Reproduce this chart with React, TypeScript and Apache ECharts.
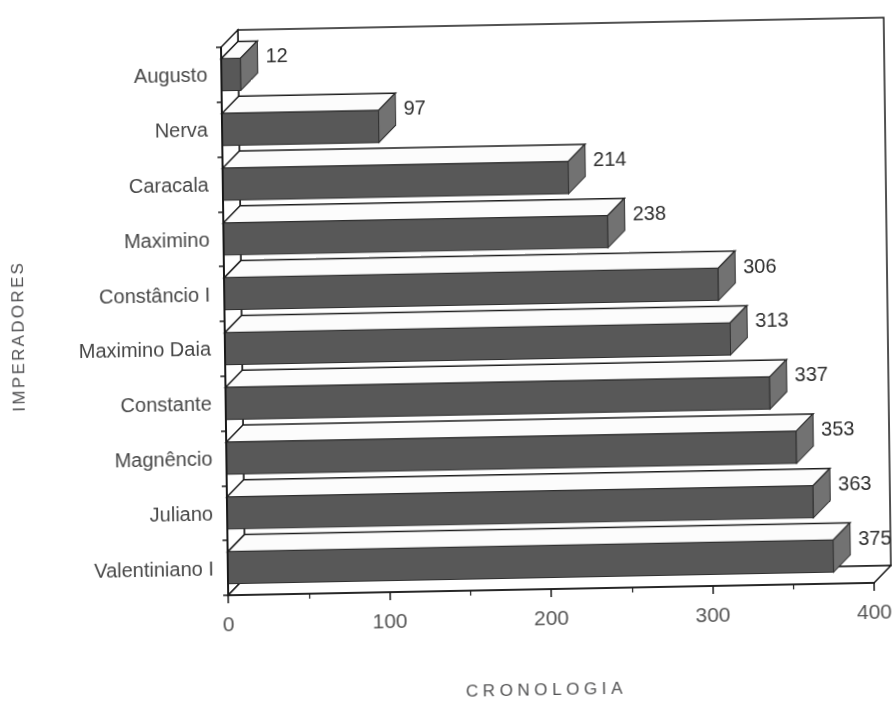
import React, { useEffect, useRef } from "react";
import * as echarts from "echarts";

// Emperors (top to bottom) and the year each one is dated to
const emperors = [
  "Augusto",
  "Nerva",
  "Caracala",
  "Maximino",
  "Constâncio I",
  "Maximino Daia",
  "Constante",
  "Magnêncio",
  "Juliano",
  "Valentiniano I",
];
const years = [12, 97, 214, 238, 306, 313, 337, 353, 363, 375];

// Value axis range and step
const axisMin = 0;
const axisMax = 400;
const axisStep = 100;

const xTitle = "CRONOLOGIA";
const yTitle = "IMPERADORES";

// 3D look: depth offset of the box and of every bar, and the bar face height
const DX = 17;
const DY = 17;
const FACE_H = 32;

const FONT = '"Liberation Sans", Arial, Helvetica, sans-serif';
const X_TITLE_FILL = "#505051";
const Y_TITLE_FILL = "#505052";

export default function App() {
  const ref = useRef<HTMLDivElement>(null);

  useEffect(() => {
    if (!ref.current) return;
    const chart = echarts.init(ref.current, null, { renderer: "svg" });

    const frameSeries = {
      type: "custom",
      z: 1,
      clip: false,
      silent: true,
      data: [[0, 0]],
      renderItem: (params: any) => {
        const cs = params.coordSys;
        const x0 = cs.x;
        const y0 = cs.y;
        const x1 = cs.x + cs.width;
        const yb = cs.y + cs.height;
        const line = { stroke: "#1a1a1a", lineWidth: 1.5 };
        return {
          type: "group",
          children: [
            // back wall
            {
              type: "rect",
              shape: { x: x0 + DX, y: y0 - DY, width: x1 - x0, height: yb - y0 },
              style: { fill: "#ffffff", ...line },
            },
            // left wall
            {
              type: "polygon",
              shape: { points: [[x0, y0], [x0 + DX, y0 - DY], [x0 + DX, yb - DY], [x0, yb]] },
              style: { fill: "#ffffff", ...line },
            },
            // floor
            {
              type: "polygon",
              shape: { points: [[x0, yb], [x0 + DX, yb - DY], [x1 + DX, yb - DY], [x1, yb]] },
              style: { fill: "#ffffff", ...line },
            },
          ],
        };
      },
    };

    const barSeries = {
      type: "custom",
      z: 3,
      clip: false,
      data: years.map((v, i) => [v, i]),
      renderItem: (_params: any, api: any) => {
        const v = api.value(0);
        const idx = api.value(1);
        const start = api.coord([0, idx]);
        const end = api.coord([v, idx]);
        const xa = start[0];
        const xb = end[0];
        const yTop = start[1] - FACE_H / 2;
        const yBot = yTop + FACE_H;
        return {
          type: "group",
          children: [
            // top face
            {
              type: "polygon",
              shape: { points: [[xa, yTop], [xa + DX, yTop - DY], [xb + DX, yTop - DY], [xb, yTop]] },
              style: { fill: "#fcfcfc", stroke: "#1c1c1c", lineWidth: 1.5 },
            },
            // front face
            {
              type: "rect",
              shape: { x: xa, y: yTop, width: xb - xa, height: FACE_H },
              style: { fill: "#585858", stroke: "#303030", lineWidth: 1 },
            },
            // right side face
            {
              type: "polygon",
              shape: { points: [[xb, yTop], [xb + DX, yTop - DY], [xb + DX, yBot - DY], [xb, yBot]] },
              style: { fill: "#727272", stroke: "#303030", lineWidth: 1 },
            },
            // value label
            {
              type: "text",
              x: xb + DX + 8,
              y: yTop - 2,
              style: {
                text: String(v),
                fill: "#2e2e2e",
                font: `20px ${FONT}`,
                align: "left",
                verticalAlign: "middle",
              },
            },
          ],
        };
      },
    };

    chart.setOption({
      animation: false,
      backgroundColor: "#ffffff",
      grid: { left: 225, top: 43, width: 646, height: 548 },
      xAxis: {
        type: "value",
        min: axisMin,
        max: axisMax,
        interval: axisStep,
        z: 6,
        axisLine: { show: true, lineStyle: { color: "#1a1a1a", width: 1.5 } },
        axisTick: { show: true, length: 8, lineStyle: { color: "#1a1a1a", width: 1.5 } },
        minorTick: { show: true, splitNumber: 2, length: 5, lineStyle: { color: "#1a1a1a", width: 1.2 } },
        splitLine: { show: false },
        axisLabel: { color: "#555555", fontSize: 21, fontFamily: FONT, margin: 18 },
      },
      yAxis: {
        type: "category",
        data: emperors,
        inverse: true,
        z: 6,
        axisLine: { show: true, lineStyle: { color: "#1a1a1a", width: 2 } },
        axisTick: { show: true, length: 5, lineStyle: { color: "#1a1a1a", width: 1.5 } },
        axisLabel: { color: "#474747", fontSize: 20, fontFamily: FONT, margin: 14 },
      },
      graphic: [
        {
          type: "text",
          x: 542,
          y: 692,
          style: {
            text: xTitle,
            fill: X_TITLE_FILL,
            font: `17px ${FONT}`,
            align: "center",
            verticalAlign: "middle",
          },
        },
        {
          type: "text",
          x: 18,
          y: 328,
          rotation: Math.PI / 2,
          style: {
            text: yTitle,
            fill: Y_TITLE_FILL,
            font: `17px ${FONT}`,
            align: "center",
            verticalAlign: "middle",
          },
        },
        // trims anything running past the right wall
        {
          type: "rect",
          z: 100,
          shape: { x: 889, y: 0, width: 20, height: 701 },
          style: { fill: "#ffffff" },
        },
      ],
      series: [frameSeries, barSeries],
    });

    return () => chart.dispose();
  }, []);

  return (
    <>
      <style>{`
        text[fill="${X_TITLE_FILL}"] { letter-spacing: 4.6px; }
        text[fill="${Y_TITLE_FILL}"] { letter-spacing: 2.3px; }
      `}</style>
      <div
        ref={ref}
        style={{
          position: "fixed",
          left: 0,
          top: 0,
          width: 896,
          height: 701,
          background: "#ffffff",
          transform: "rotate(-0.75deg) skewY(-0.35deg)",
          transformOrigin: "448px 350px",
        }}
      />
    </>
  );
}
